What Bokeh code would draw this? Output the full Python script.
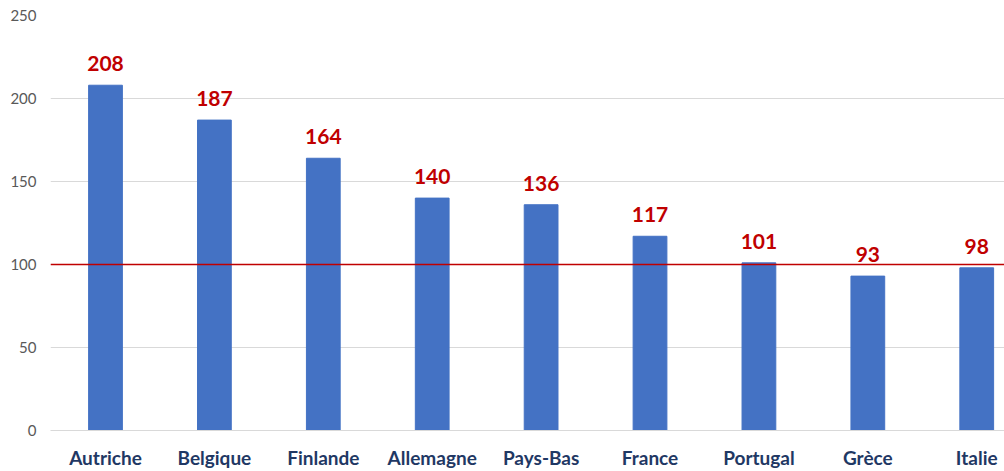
from bokeh.plotting import figure
from bokeh.models import ColumnDataSource, Range1d, FixedTicker, Span, LabelSet
from bokeh.core.properties import value
from bokeh.embed import file_html
from bokeh.resources import INLINE

categories = ["Autriche", "Belgique", "Finlande", "Allemagne", "Pays-Bas",
              "France", "Portugal", "Grèce", "Italie"]
values = [208, 187, 164, 140, 136, 117, 101, 93, 98]
y_ticks = [0, 50, 100, 150, 200, 250]
reference_level = 100

xs = list(range(len(categories)))
src = ColumnDataSource(dict(x=xs, top=values, label=[str(v) for v in values]))

p = figure(width=1004, height=471, output_backend="svg", toolbar_location=None,
           x_range=Range1d(-0.505, 8.255), y_range=Range1d(0, 250),
           min_border_left=50, min_border_right=0, min_border_top=15,
           min_border_bottom=39)
p.outline_line_color = None
p.background_fill_color = "white"
p.border_fill_color = "white"

p.vbar(x="x", top="top", width=0.31, bottom=0, source=src,
       fill_color="#4472C4", line_color="#4472C4")

labels = LabelSet(x="x", y="top", text="label", source=src,
                  text_align="center", text_baseline="bottom", y_offset=14,
                  text_color="#C00000", text_font=value("Lato"),
                  text_font_style="bold", text_font_size="21px")
p.add_layout(labels)

p.add_layout(Span(location=reference_level, dimension="width",
                  line_color="#C00000", line_width=1.5))

p.xaxis.ticker = FixedTicker(ticks=xs)
p.xaxis.major_label_overrides = {i: c for i, c in enumerate(categories)}
p.xaxis.major_label_text_font = "Lato"
p.xaxis.major_label_text_font_style = "bold"
p.xaxis.major_label_text_font_size = "19px"
p.xaxis.major_label_text_color = "#1F3864"
p.xaxis.major_label_standoff = 15
p.xaxis.axis_line_color = "#D9D9D9"
p.xaxis.major_tick_line_color = None
p.xaxis.minor_tick_line_color = None
p.xaxis.major_tick_out = 0
p.xaxis.major_tick_in = 0
p.xgrid.grid_line_color = None

p.yaxis.ticker = FixedTicker(ticks=y_ticks)
p.yaxis.major_label_text_font = "Lato"
p.yaxis.major_label_text_font_size = "15px"
p.yaxis.major_label_text_color = "#595959"
p.yaxis.axis_line_color = None
p.yaxis.major_tick_line_color = None
p.yaxis.minor_tick_line_color = None
p.yaxis.major_tick_out = 0
p.yaxis.major_tick_in = 0
p.yaxis.major_label_standoff = 14
p.ygrid.grid_line_color = "#D9D9D9"
p.ygrid.grid_line_width = 1.2

open("out.html", "w").write(file_html(p, INLINE))
